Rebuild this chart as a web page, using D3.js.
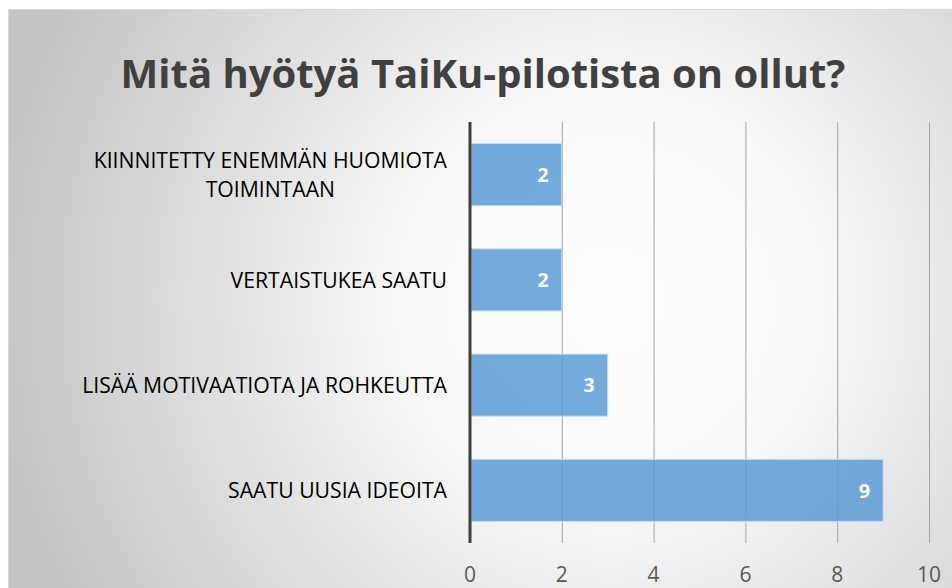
<!DOCTYPE html>
<html>
<head>
<meta charset="utf-8">
<script src="https://cdn.jsdelivr.net/npm/d3@7"></script>
<style>
  body { margin: 0; background: #fff; }
  svg { display: block; font-family: "Open Sans", sans-serif; }
</style>
</head>
<body>
<div id="chart"></div>
<script>
const title = "Mitä hyötyä TaiKu-pilotista on ollut?";
const categories = [
  ["KIINNITETTY ENEMMÄN HUOMIOTA", "TOIMINTAAN"],
  ["VERTAISTUKEA SAATU"],
  ["LISÄÄ MOTIVAATIOTA JA ROHKEUTTA"],
  ["SAATU UUSIA IDEOITA"]
];
const values = [2, 2, 3, 9];
const ticks = [0, 2, 4, 6, 8, 10];

const width = 952, height = 588;
const svg = d3.select("#chart").append("svg")
  .attr("width", width)
  .attr("height", height);

// tausta: säteittäinen liukuväri
const grad = svg.append("defs").append("radialGradient")
  .attr("id", "bg")
  .attr("gradientUnits", "userSpaceOnUse")
  .attr("cx", 610).attr("cy", 300).attr("r", 620);
grad.append("stop").attr("offset", "0%").attr("stop-color", "#ffffff");
grad.append("stop").attr("offset", "35%").attr("stop-color", "#f7f7f7");
grad.append("stop").attr("offset", "100%").attr("stop-color", "#c4c4c4");

svg.append("rect")
  .attr("x", 8).attr("y", 9)
  .attr("width", width).attr("height", height)
  .attr("fill", "url(#bg)");
svg.append("line")
  .attr("x1", 8).attr("x2", width).attr("y1", 9.5).attr("y2", 9.5)
  .attr("stroke", "#d9d9d9");
svg.append("line")
  .attr("x1", 8.5).attr("x2", 8.5).attr("y1", 9).attr("y2", height)
  .attr("stroke", "#d9d9d9");

const margin = {left: 470, right: 23, top: 122, bottom: 45};
const x = d3.scaleLinear()
  .domain([0, 10])
  .range([margin.left, width - margin.right]);
const y = d3.scaleBand()
  .domain(d3.range(categories.length))
  .range([margin.top, height - margin.bottom])
  .paddingInner(0.41)
  .paddingOuter(0.205);

// otsikko
svg.append("text")
  .attr("x", 483)
  .attr("y", 88)
  .attr("text-anchor", "middle")
  .attr("font-size", "40px")
  .attr("font-weight", "bold")
  .attr("fill", "#404040")
  .text(title);

// pystysuorat ruudukkoviivat
svg.append("g")
  .selectAll("line")
  .data(ticks.slice(1))
  .join("line")
  .attr("x1", d => x(d) + 0.5).attr("x2", d => x(d) + 0.5)
  .attr("y1", margin.top).attr("y2", height - margin.bottom)
  .attr("stroke", "#a6a6a6")
  .attr("stroke-width", 1);

// x-akselin tekstit
svg.append("g")
  .selectAll("text")
  .data(ticks)
  .join("text")
  .attr("x", d => x(d))
  .attr("y", 582)
  .attr("text-anchor", "middle")
  .attr("font-size", "21px")
  .attr("fill", "#595959")
  .text(d => d);

// palkit
svg.append("g")
  .selectAll("rect")
  .data(values)
  .join("rect")
  .attr("x", x(0) + 1)
  .attr("y", (d, i) => y(i))
  .attr("width", d => x(d) - x(0) - 1)
  .attr("height", y.bandwidth())
  .attr("fill", "#5b9bd5")
  .attr("fill-opacity", 0.85)
  .attr("stroke", "#c9dcef")
  .attr("stroke-width", 1);

// arvot palkkien sisällä
svg.append("g")
  .selectAll("text")
  .data(values)
  .join("text")
  .attr("x", d => x(d) - 13)
  .attr("y", (d, i) => y(i) + y.bandwidth() / 2)
  .attr("dy", "0.36em")
  .attr("text-anchor", "end")
  .attr("font-size", "20px")
  .attr("font-weight", "bold")
  .attr("fill", "#ffffff")
  .text(d => d);

// y-akselin viiva
svg.append("line")
  .attr("x1", x(0)).attr("x2", x(0))
  .attr("y1", margin.top).attr("y2", height - margin.bottom)
  .attr("stroke", "#404040")
  .attr("stroke-width", 3);

// kategoriat
const labels = svg.append("g")
  .selectAll("text")
  .data(categories)
  .join("text")
  .attr("text-anchor", "end")
  .attr("font-size", "21.2px")
  .attr("fill", "#000000");
labels.each(function(lines, i) {
  const cy = y(i) + y.bandwidth() / 2;
  const lh = 29;
  const t = d3.select(this);
  lines.forEach((s, k) => {
    t.append("tspan")
      .attr("x", 447)
      .attr("y", cy + (k - (lines.length - 1) / 2) * lh)
      .attr("dy", "0.36em")
      .text(s);
  });
});
// kaksirivinen teksti: toinen rivi keskitetään ensimmäisen alle
labels.filter(d => d.length > 1).each(function() {
  const tspans = d3.select(this).selectAll("tspan").nodes();
  const w0 = tspans[0].getComputedTextLength();
  const w1 = tspans[1].getComputedTextLength();
  d3.select(tspans[1]).attr("x", 447 - (w0 - w1) / 2);
});
</script>
</body>
</html>
